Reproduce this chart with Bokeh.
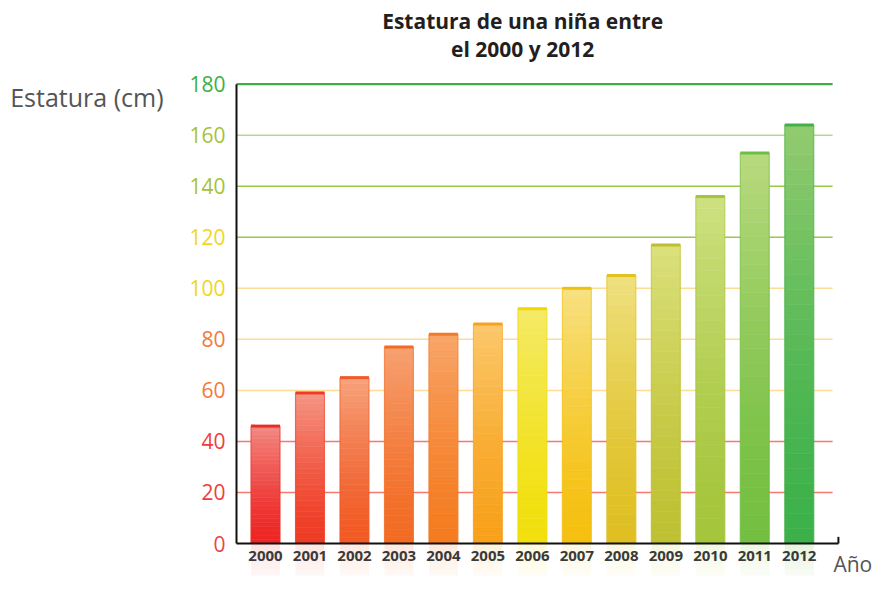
from bokeh.plotting import figure
from bokeh.models import Range1d, ColumnDataSource
from bokeh.core.properties import value
from bokeh.embed import file_html
from bokeh.resources import INLINE

# ---- data ----
years = ["2000", "2001", "2002", "2003", "2004", "2005", "2006",
         "2007", "2008", "2009", "2010", "2011", "2012"]
heights = [46, 59, 65, 77, 82, 86, 92, 100, 105, 117, 136, 153, 164]
y_ticks = [0, 20, 40, 60, 80, 100, 120, 140, 160, 180]
y_tick_colors = ["#e8454a", "#ee3d3d", "#ee3d3d", "#f07a40", "#f07a40",
                 "#f2d61c", "#f2d61c", "#a6c23a", "#a6c23a", "#3cb043"]
grid_colors = ["#f47a70", "#f47a70", "#fddc96", "#fddc96", "#fddc96",
               "#9cc846", "#9cc846", "#b9d690", "#3cb043"]
bar_base = ["#ed2624", "#ef3b24", "#f15a24", "#f26b23", "#f47c20", "#f8a11b",
            "#f1e00c", "#f5c00f", "#dfbf22", "#bfc133", "#a5c53b", "#74bf41", "#3cb14a"]
bar_light = ["#f2877f", "#f59482", "#f6a17a", "#f6a070", "#f8a467", "#fbc76a",
             "#f4ea66", "#f7e07f", "#efe07e", "#dbe07a", "#cde07f", "#b7d97d", "#91cb6f"]
bar_cap = ["#ea2c28", "#ee3a26", "#f05a2a", "#f26b25", "#f2782a", "#f8a020",
           "#f0d800", "#f0c010", "#e2c020", "#bcc030", "#a5c53b", "#6cbf44", "#44b04a"]

title_lines = ["Estatura de una niña entre", "el 2000 y 2012"]
y_title = "Estatura (cm)"
x_title = "Año"

FONT = value("Open Sans")
W, H = 874, 576
PX_PER_CAT, CAT0_PX = 44.48, 265.0     # horizontal scale (px per category, px of first bar)
PX_PER_UNIT, ZERO_PX = 2.552, 543.0    # vertical scale (px per cm, px of value 0)
X_AXIS_START, X_AXIS_END, GRID_END = -0.652, 12.88, 12.75
BAR_W = 0.65
REFLECT_DEPTH = 16.0


def hex2rgb(h):
    h = h.lstrip("#")
    return tuple(int(h[i:i + 2], 16) for i in (0, 2, 4))


def lerp(c1, c2, t):
    a, b = hex2rgb(c1), hex2rgb(c2)
    return "#%02x%02x%02x" % tuple(int(round(a[i] + (b[i] - a[i]) * t)) for i in range(3))


x_range = Range1d(-CAT0_PX / PX_PER_CAT, (W - CAT0_PX) / PX_PER_CAT)
y_range = Range1d(-(H - ZERO_PX) / PX_PER_UNIT, ZERO_PX / PX_PER_UNIT)

p = figure(width=W, height=H, output_backend="svg", toolbar_location=None,
           x_range=x_range, y_range=y_range,
           min_border_left=0, min_border_right=0, min_border_top=0, min_border_bottom=0)
p.outline_line_color = None
p.xaxis.visible = False
p.yaxis.visible = False
p.xgrid.visible = False
p.ygrid.visible = False

# gridlines
grid_y = y_ticks[1:]
p.segment(x0=[X_AXIS_START] * len(grid_y), x1=[GRID_END] * len(grid_y), y0=grid_y, y1=grid_y,
          line_color=grid_colors, line_width=[1.5] * (len(grid_y) - 1) + [2.2])

# gradient bars
N = 28
xs, bots, tops, cols = [], [], [], []
for i, v in enumerate(heights):
    for k in range(N):
        xs.append(i)
        bots.append(v * k / N)
        tops.append(v * (k + 1) / N)
        t = (k / (N - 1)) ** 1.4
        cols.append(lerp(bar_base[i], bar_light[i], t))
src = ColumnDataSource(dict(x=xs, bottom=bots, top=tops, color=cols))
p.vbar(x="x", bottom="bottom", top="top", width=BAR_W, fill_color="color",
       line_color="color", line_width=0.6, source=src)

idx = list(range(len(years)))
p.vbar(x=idx, top=heights, bottom=0, width=BAR_W, fill_color=None,
       line_color=bar_cap, line_alpha=0.55, line_width=1.2)
p.segment(x0=[i - BAR_W / 2 for i in idx], x1=[i + BAR_W / 2 for i in idx],
          y0=heights, y1=heights, line_color=bar_cap, line_width=3)

# faint reflection below the axis
M = 8
rx, rb, rt, rc, ra = [], [], [], [], []
for i in idx:
    for k in range(M):
        rx.append(i)
        rt.append(-REFLECT_DEPTH * k / M)
        rb.append(-REFLECT_DEPTH * (k + 1) / M)
        rc.append(bar_light[i])
        ra.append(0.22 * (1 - k / M))
p.vbar(x=rx, top=rt, bottom=rb, width=BAR_W, fill_color=rc, fill_alpha=ra, line_color=None)

# axis lines
p.segment(x0=[X_AXIS_START, X_AXIS_START, X_AXIS_END],
          x1=[X_AXIS_START, X_AXIS_END, X_AXIS_END],
          y0=[y_ticks[-1], 0, 0], y1=[0, 0, 2.6],
          line_color="#111111", line_width=2)

# x tick labels (years)
p.text(x=idx, y=[0] * len(idx), text=years, y_offset=12, text_align="center",
       text_baseline="middle", text_font=FONT, text_font_style="bold",
       text_font_size="15px", text_color="#3a3a3a")

# y tick labels (coloured)
p.text(x=[X_AXIS_START] * len(y_ticks), y=y_ticks, text=[str(t) for t in y_ticks],
       x_offset=-11, text_align="right", text_baseline="middle",
       text_color=y_tick_colors, text_font=FONT, text_font_size="21px")

# titles
p.text(x=[5.78, 5.78], y=[204.9, 193.9], text=title_lines, text_align="center",
       text_baseline="middle", text_color="#231f20", text_font=FONT,
       text_font_style="bold", text_font_size="21px")
p.text(x=[X_AXIS_START], y=[174.8], x_offset=-73, text=[y_title], text_align="right",
       text_baseline="middle", text_color="#555555", text_font=FONT, text_font_size="25px")
p.text(x=[X_AXIS_END], y=[0], x_offset=-5, y_offset=20, text=[x_title], text_align="left",
       text_baseline="middle", text_color="#555555", text_font=FONT, text_font_size="21px")

open("out.html", "w").write(file_html(p, INLINE))
